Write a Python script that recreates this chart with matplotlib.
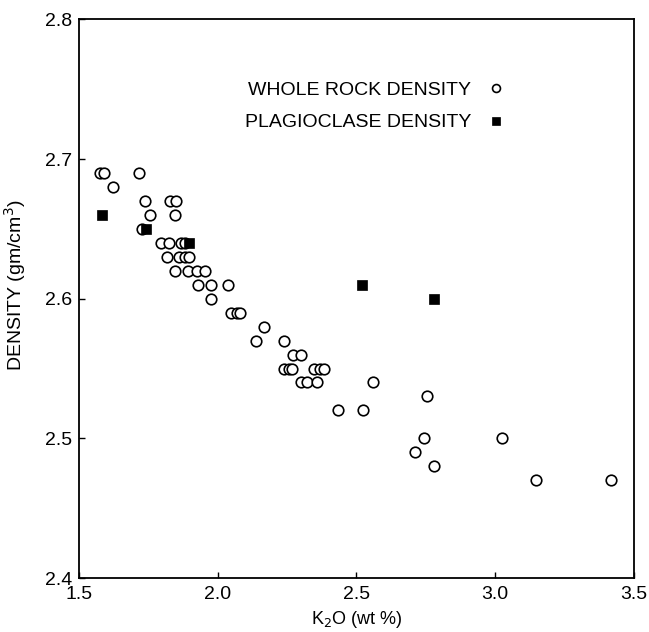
import matplotlib
matplotlib.use("Agg")
import matplotlib.pyplot as plt

# Whole rock density (open circles)
wr_k2o = [1.575, 1.59, 1.625, 1.717, 1.737, 1.757, 1.728,
          1.830, 1.850, 1.847,
          1.795, 1.826, 1.868, 1.883,
          1.817, 1.862, 1.883, 1.899,
          1.847, 1.895, 1.927, 1.956,
          1.928, 1.977, 2.038, 1.976,
          2.047, 2.069, 2.082,
          2.168, 2.139, 2.240,
          2.271, 2.302,
          2.238, 2.256, 2.268, 2.346, 2.370, 2.385,
          2.302, 2.322, 2.360, 2.561,
          2.433, 2.524, 2.754,
          2.742, 2.710, 2.781,
          3.025, 3.146, 3.416]
wr_density = [2.69, 2.69, 2.68, 2.69, 2.67, 2.66, 2.65,
              2.67, 2.67, 2.66,
              2.64, 2.64, 2.64, 2.64,
              2.63, 2.63, 2.63, 2.63,
              2.62, 2.62, 2.62, 2.62,
              2.61, 2.61, 2.61, 2.60,
              2.59, 2.59, 2.59,
              2.58, 2.57, 2.57,
              2.56, 2.56,
              2.55, 2.55, 2.55, 2.55, 2.55, 2.55,
              2.54, 2.54, 2.54, 2.54,
              2.52, 2.52, 2.53,
              2.50, 2.49, 2.48,
              2.50, 2.47, 2.47]

# Plagioclase density (filled squares)
pl_k2o = [1.583, 1.742, 1.897, 2.52, 2.78]
pl_density = [2.66, 2.65, 2.64, 2.61, 2.60]

x_ticks = [1.5, 2.0, 2.5, 3.0, 3.5]
x_ticklabels = ["1.5", "2.0", "2.5", "3.0", "3.5"]
y_ticks = [2.4, 2.5, 2.6, 2.7, 2.8]
y_ticklabels = ["2.4", "2.5", "2.6", "2.7", "2.8"]

plt.rcParams['font.family'] = ['Liberation Sans', 'DejaVu Sans']

fig = plt.figure(figsize=(6.49, 6.32), dpi=100)
ax = fig.add_axes([78.7/649, 1 - 578/632, (634 - 78.7)/649, (578 - 19.4)/632])

ax.plot(wr_k2o, wr_density, linestyle='none', marker='o', markersize=7.6,
        markerfacecolor='white', markeredgecolor='black', markeredgewidth=1.2,
        label='WHOLE ROCK DENSITY', zorder=3)
ax.plot(pl_k2o, pl_density, linestyle='none', marker='s', markersize=7.8,
        markerfacecolor='black', markeredgecolor='black', markeredgewidth=0.5,
        label='PLAGIOCLASE DENSITY', zorder=4)

ax.set_xlim(1.5, 3.5)
ax.set_ylim(2.4, 2.8)
ax.set_xticks(x_ticks)
ax.set_xticklabels(x_ticklabels)
ax.set_yticks(y_ticks)
ax.set_yticklabels(y_ticklabels)
ax.tick_params(direction='in', length=4, width=1, labelsize=14)
ax.tick_params(axis='x', pad=6)
ax.tick_params(axis='y', pad=5)
for s in ax.spines.values():
    s.set_linewidth(1.3)

ax.set_xlabel('K$_2$O (wt %)', fontsize=13)
ax.xaxis.set_label_coords(0.5, -0.055)
ax.set_ylabel('DENSITY (gm/cm$^3$)', fontsize=14)
ax.yaxis.set_label_coords(-0.092, 0.525)

leg = ax.legend(loc='upper right', bbox_to_anchor=(0.80, 0.92), frameon=False,
                markerscale=0.75, fontsize=14, markerfirst=False,
                handletextpad=0.75, labelspacing=0.75, handlelength=1.0)

fig.savefig('out.png', dpi=100)
